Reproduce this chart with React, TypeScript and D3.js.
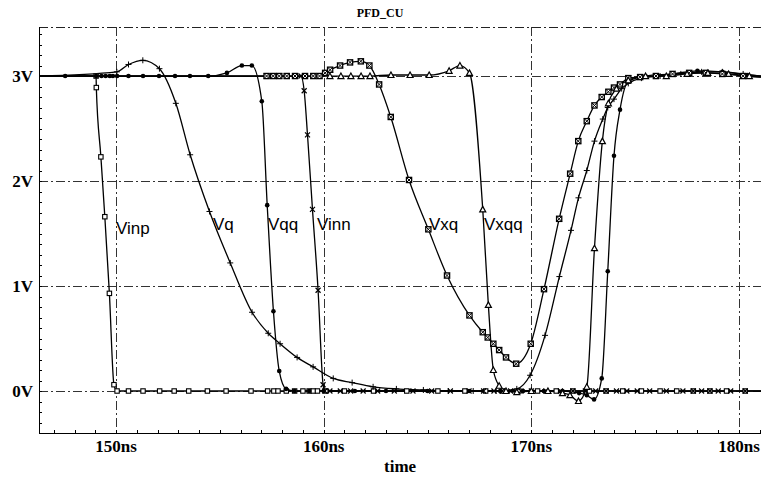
import React from 'react';
import * as d3 from 'd3';

type Pt = [number, number];

// waveforms: [time ns, volts]
const vinp: Pt[] = [
  [146.29, 3], [149.04, 3], [149.05, 2.89], [149.27, 2.23], [149.46, 1.66], [149.68, 0.93], [149.9, 0.06],
  [150.05, 0], [150.6, 0], [151.3, 0], [152.1, 0], [152.8, 0], [153.5, 0], [154.4, 0], [155.3, 0],
  [156.5, 0], [157.3, 0], [157.6, 0], [157.8, 0], [158.2, 0], [158.6, 0], [159.0, 0], [159.3, 0],
  [159.5, 0], [159.7, 0], [160.1, 0], [161.0, 0], [162.4, 0], [164.0, 0], [165.5, 0], [166.8, 0],
  [167.8, 0], [168.6, 0], [169.4, 0], [170.3, 0], [171.2, 0], [172.0, 0], [172.8, 0], [173.6, 0],
  [174.4, 0], [175.3, 0], [176.2, 0], [177.0, 0], [177.8, 0], [178.6, 0], [179.4, 0], [180.3, 0], [181.06, 0],
];

const vq: Pt[] = [
  [146.29, 3], [150.04, 3.04], [150.6, 3.11], [151.29, 3.15], [152.09, 3.07], [152.88, 2.74], [153.57, 2.25],
  [154.5, 1.71], [155.5, 1.22], [156.55, 0.75], [157.33, 0.55], [157.9, 0.45], [158.72, 0.32], [159.49, 0.23],
  [160.46, 0.12], [161.37, 0.08], [162.38, 0.04], [163.5, 0.02], [164.8, 0.01], [166.0, 0], [167.2, 0],
  [168.3, 0], [169.3, 0.02], [169.94, 0.15], [170.66, 0.53], [171.35, 1.09], [171.91, 1.53], [172.27, 1.84],
  [172.67, 2.1], [173.04, 2.38], [173.44, 2.59], [173.68, 2.7], [173.98, 2.78], [174.35, 2.88], [174.67, 2.93],
  [175.3, 2.98], [176.2, 3.0], [177.2, 3.02], [178.2, 3.04], [179.2, 3.04], [180.2, 3.02], [181.06, 3.0],
];

const vqq: Pt[] = [
  [146.29, 3], [147.55, 3], [149.04, 3], [149.3, 3], [149.5, 3], [149.7, 3], [149.85, 3], [150.05, 3],
  [150.6, 3], [151.3, 3], [152.07, 3], [152.84, 3], [153.56, 3], [154.44, 3.0], [155.34, 3.03], [156.06, 3.1],
  [156.54, 3.1], [157.02, 2.76], [157.28, 1.77], [157.58, 0.76], [157.86, 0.19], [158.19, 0.02], [158.6, 0],
  [159.3, 0], [160.0, 0], [161.5, 0], [163.0, 0], [165.0, 0], [167.0, 0], [168.5, 0], [169.6, 0], [170.6, 0],
  [171.5, 0], [172.3, -0.02], [172.67, -0.04], [173.02, -0.08], [173.39, 0.12], [173.68, 1.14], [173.98, 2.24],
  [174.27, 2.68], [174.67, 2.95], [175.5, 3.0], [176.8, 3.02], [178.0, 3.05], [179.2, 3.04], [180.4, 3.01], [181.06, 3.0],
];

const vinn: Pt[] = [
  [146.29, 3], [158.91, 3.0], [159.06, 2.86], [159.22, 2.44], [159.46, 1.73], [159.73, 0.96], [159.97, 0.06],
  [160.05, 0], [160.3, 0], [160.8, 0], [161.3, 0], [161.9, 0], [162.6, 0], [163.4, 0], [164.3, 0], [165.2, 0],
  [166.1, 0], [167.0, 0], [167.7, 0], [168.2, 0], [168.6, 0], [169.0, 0], [169.5, 0], [170.0, 0], [170.7, 0],
  [171.4, 0], [172.0, 0], [172.6, 0], [173.1, 0], [173.6, 0], [174.1, 0], [174.6, 0], [175.1, 0], [175.7, 0],
  [176.5, 0], [177.3, 0], [177.8, 0], [178.2, 0], [178.6, 0], [179.0, 0], [179.6, 0], [180.3, 0], [181.06, 0],
];

const vxq: Pt[] = [
  [146.29, 3], [157.25, 3], [157.57, 3], [157.86, 3], [158.22, 3], [158.62, 3], [159.1, 3], [159.5, 3],
  [159.8, 3], [160.07, 3.03], [160.31, 3.06], [160.79, 3.1], [161.27, 3.13], [161.79, 3.14],
  [162.2, 3.1], [162.67, 2.92], [163.23, 2.61], [164.11, 2.01], [165.04, 1.54], [165.94, 1.1], [167.02, 0.72],
  [167.66, 0.56], [167.9, 0.51], [168.17, 0.45], [168.45, 0.39], [168.78, 0.32], [169.27, 0.26], [169.97, 0.45],
  [170.61, 0.97], [171.34, 1.64], [171.87, 2.07], [172.26, 2.38], [172.67, 2.57], [173.04, 2.72], [173.39, 2.8],
  [173.71, 2.85], [173.98, 2.89], [174.27, 2.92], [174.67, 2.98], [175.24, 2.99], [176.0, 3.0], [176.8, 3.02],
  [177.6, 3.03], [178.4, 3.03], [179.2, 3.02], [180.2, 3.0], [181.06, 2.99],
];

const vxqq: Pt[] = [
  [146.29, 3], [160.3, 3], [160.83, 3], [161.31, 3], [161.8, 3], [162.23, 3], [163.24, 3.01], [164.16, 3.01],
  [165.08, 3.01], [166.04, 3.05], [166.56, 3.1], [167.02, 3.03], [167.66, 1.73], [167.93, 0.82], [168.17, 0.2],
  [168.45, 0.05], [168.78, 0], [169.3, -0.01], [170.0, 0], [170.8, 0], [171.5, -0.02], [171.86, -0.04],
  [172.27, -0.095], [172.67, 0.04], [173.04, 1.36], [173.42, 2.38], [173.71, 2.74], [174.1, 2.88], [174.67, 2.96],
  [175.5, 3.0], [176.5, 3.0], [177.5, 3.02], [178.5, 3.03], [179.5, 3.02], [180.5, 3.0], [181.06, 2.99],
];

const xTicks = [150, 160, 170, 180];
const yTicks = [0, 1, 2, 3];

const series = [
  { name: 'Vinp', data: vinp, marker: 'square', label: [116, 234] },
  { name: 'Vq', data: vq, marker: 'plus', label: [213, 230] },
  { name: 'Vqq', data: vqq, marker: 'dot', label: [268, 230] },
  { name: 'Vinn', data: vinn, marker: 'cross', label: [317, 230] },
  { name: 'Vxq', data: vxq, marker: 'squarex', label: [429, 230] },
  { name: 'Vxqq', data: vxqq, marker: 'triangle', label: [484, 230] },
];

const W = 761;
const H = 479;
const left = 39, right = 761, top = 27, bottom = 433;

const Marker = ({ kind }: { kind: string }) => {
  switch (kind) {
    case 'square':
      return <rect x={-2.2} y={-2.2} width={4.4} height={4.4} fill="#fff" stroke="#000" strokeWidth={1.1} />;
    case 'plus':
      return <path d="M-3,0H3M0,-3V3" stroke="#000" strokeWidth={1} />;
    case 'dot':
      return <circle r={2.3} fill="#000" />;
    case 'cross':
      return <path d="M-2.5,-2.5L2.5,2.5M-2.5,2.5L2.5,-2.5" stroke="#000" strokeWidth={1.2} />;
    case 'squarex':
      return (
        <g>
          <rect x={-2.6} y={-2.6} width={5.2} height={5.2} fill="#fff" stroke="#000" strokeWidth={1.3} />
          <path d="M-2.6,-2.6L2.6,2.6M-2.6,2.6L2.6,-2.6" stroke="#000" strokeWidth={1} />
        </g>
      );
    default:
      return <path d="M0,-3L3,2.5H-3Z" fill="#fff" stroke="#000" strokeWidth={1.2} />;
  }
};

export default function App() {
  const x = d3.scaleLinear().domain([146.29, 181.06]).range([left, right]);
  const y = d3.scaleLinear().domain([-0.4, 3.467]).range([bottom, top]);
  const line = d3.line<Pt>().x(d => x(d[0])).y(d => y(d[1])).curve(d3.curveMonotoneX);

  const minorX = d3.range(147, 182, 1);
  const minorY = d3.range(-4, 35, 1).map(v => v / 10);
  const dash = '9,3,2,3';
  const serif = '"Liberation Serif", "Times New Roman", serif';
  const sans = '"Liberation Sans", Arial, sans-serif';

  return (
    <svg width={W} height={H} style={{ position: 'absolute', left: 0, top: 0, background: '#fff' }}>
      <defs>
        <clipPath id="plot">
          <rect x={left} y={top} width={right - left} height={bottom - top} />
        </clipPath>
      </defs>

      <text x={380} y={17} textAnchor="middle" fontFamily={serif} fontWeight="bold" fontSize={12}>PFD_CU</text>

      {/* grid */}
      <line x1={left} x2={right} y1={top + 0.5} y2={top + 0.5} stroke="#222" strokeDasharray={dash} />
      {xTicks.map(t => (
        <line key={'gx' + t} x1={Math.round(x(t)) + 0.5} x2={Math.round(x(t)) + 0.5} y1={top} y2={bottom}
          stroke="#333" strokeDasharray={dash} />
      ))}
      {yTicks.map(v => (
        <line key={'gy' + v} x1={left} x2={right} y1={Math.round(y(v)) + 0.5} y2={Math.round(y(v)) + 0.5}
          stroke="#333" strokeDasharray={dash} />
      ))}

      {/* axes */}
      <line x1={left + 0.5} x2={left + 0.5} y1={top} y2={bottom} stroke="#000" />
      <line x1={left} x2={right} y1={bottom + 0.5} y2={bottom + 0.5} stroke="#000" />
      {minorX.map(t => (
        <line key={'mx' + t} x1={Math.round(x(t)) + 0.5} x2={Math.round(x(t)) + 0.5} y1={bottom} y2={bottom - 3} stroke="#000" />
      ))}
      {minorY.map(v => (
        <line key={'my' + v} x1={left} x2={left + 3} y1={Math.round(y(v)) + 0.5} y2={Math.round(y(v)) + 0.5} stroke="#000" />
      ))}
      {xTicks.map(t => (
        <text key={'tx' + t} x={x(t)} y={452} textAnchor="middle" fontFamily={serif} fontWeight="bold" fontSize={17}>
          {t}ns
        </text>
      ))}
      {yTicks.map(v => (
        <text key={'ty' + v} x={33} y={y(v) + 6} textAnchor="end" fontFamily={serif} fontWeight="bold" fontSize={17}>
          {v}V
        </text>
      ))}
      <text x={384} y={472} fontFamily={serif} fontWeight="bold" fontSize={17}>time</text>

      {/* waveforms */}
      <g clipPath="url(#plot)">
        {series.map(s => (
          <path key={s.name} d={line(s.data) || ''} fill="none" stroke="#000" strokeWidth={1.3} />
        ))}
        {series.map(s => (
          <g key={s.name + 'm'}>
            {s.data.filter(d => d[0] > 146.4 && d[0] < 181).map((d, i) => (
              <g key={i} transform={`translate(${x(d[0])},${y(d[1])})`}>
                <Marker kind={s.marker} />
              </g>
            ))}
          </g>
        ))}
      </g>

      {series.map(s => (
        <text key={s.name + 'l'} x={s.label[0]} y={s.label[1]} fontFamily={sans} fontSize={17}>{s.name}</text>
      ))}
    </svg>
  );
}
